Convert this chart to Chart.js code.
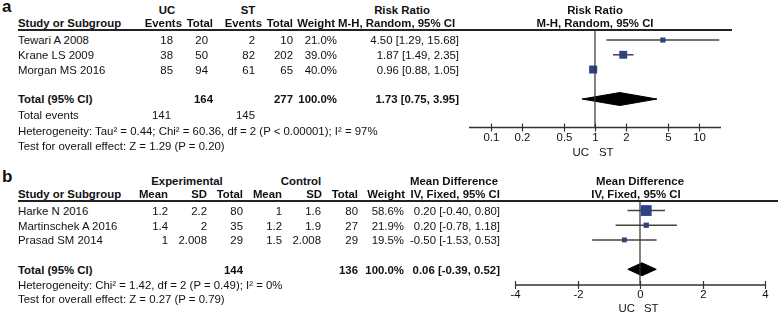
<!DOCTYPE html>
<html>
<head>
<meta charset="utf-8">
<script src="https://cdn.jsdelivr.net/npm/chart.js@4.4.1/dist/chart.umd.min.js"></script>
<style>
  body { margin: 0; background: #fff; }
  #wrap { position: relative; width: 778px; height: 315px; overflow: hidden;
          font-family: "Liberation Sans", Arial, sans-serif; font-size: 11.4px; color: #111; }
  .t { position: absolute; white-space: nowrap; line-height: 14px; height: 14px; }
  .b { font-weight: bold; }
  .rule { position: absolute; height: 2px; background: #222; }
  canvas { position: absolute; }
</style>
</head>
<body>
<div id="wrap">
  <div class="rule" style="left:18px;top:29px;width:714px"></div>
  <div class="rule" style="left:18px;top:200px;width:760px"></div>
  <canvas id="plotA" width="338" height="160" style="left:440px;top:0px"></canvas>
  <canvas id="plotB" width="338" height="155" style="left:440px;top:160px"></canvas>
</div>
<script>
// ---- panel a : UC vs ST, risk ratio ----
const studiesA = ['Tewari A 2008', 'Krane LS 2009', 'Morgan MS 2016'];
const ucEvents = [18, 38, 85];
const ucTotal = [20, 50, 94];
const stEvents = [2, 82, 61];
const stTotal = [10, 202, 65];
const weightA = [21.0, 39.0, 40.0];
const rr = [4.50, 1.87, 0.96];
const rrLo = [1.29, 1.49, 0.88];
const rrHi = [15.68, 2.35, 1.05];
const totalA = [1.73, 0.75, 3.95];       // estimate, lower, upper
const totalsA = [164, 277];
const eventsA = [141, 145];
const ticksA = [0.1, 0.2, 0.5, 1, 2, 5, 10];

// ---- panel b : mean difference ----
const studiesB = ['Harke N 2016', 'Martinschek A 2016', 'Prasad SM 2014'];
const expMean = [1.2, 1.4, 1];
const expSD = [2.2, 2, 2.008];
const expTotal = [80, 35, 29];
const ctlMean = [1, 1.2, 1.5];
const ctlSD = [1.6, 1.9, 2.008];
const ctlTotal = [80, 27, 29];
const weightB = [58.6, 21.9, 19.5];
const md = [0.20, 0.20, -0.50];
const mdLo = [-0.40, -0.78, -1.53];
const mdHi = [0.80, 1.18, 0.53];
const totalB = [0.06, -0.39, 0.52];
const totalsB = [144, 136];
const ticksB = [-4, -2, 0, 2, 4];

const wrap = document.getElementById('wrap');
function put(x, y, s, align, bold, size) {
  const d = document.createElement('div');
  d.className = 't' + (bold ? ' b' : '');
  d.textContent = s;
  d.style.top = (y - 7) + 'px';
  if (size) d.style.fontSize = size + 'px';
  if (align === 'r') d.style.right = (778 - x) + 'px';
  else if (align === 'c') { d.style.left = x + 'px'; d.style.transform = 'translateX(-50%)'; }
  else d.style.left = x + 'px';
  wrap.appendChild(d);
}
const ci = (e, l, h) => e.toFixed(2) + ' [' + l.toFixed(2) + ', ' + h.toFixed(2) + ']';

// table a
put(2, 7, 'a', 'l', 1, 17);
put(167, 10, 'UC', 'c', 1); put(248, 10, 'ST', 'c', 1);
put(402, 10, 'Risk Ratio', 'c', 1); put(595, 10, 'Risk Ratio', 'c', 1);
put(18, 23, 'Study or Subgroup', 'l', 1);
put(182, 23, 'Events', 'r', 1); put(213, 23, 'Total', 'r', 1);
put(262, 23, 'Events', 'r', 1); put(293, 23, 'Total', 'r', 1);
put(335, 23, 'Weight', 'r', 1);
put(338, 23, 'M-H, Random, 95% CI', 'l', 1); put(595, 23, 'M-H, Random, 95% CI', 'c', 1);
studiesA.forEach((s, i) => {
  const y = 40 + 14.75 * i;
  put(18, y, s);
  put(173, y, String(ucEvents[i]), 'r'); put(208, y, String(ucTotal[i]), 'r');
  put(255, y, String(stEvents[i]), 'r'); put(293, y, String(stTotal[i]), 'r');
  put(337, y, weightA[i].toFixed(1) + '%', 'r');
  put(459, y, ci(rr[i], rrLo[i], rrHi[i]), 'r');
});
put(18, 99, 'Total (95% CI)', 'l', 1);
put(213, 99, String(totalsA[0]), 'r', 1); put(293, 99, String(totalsA[1]), 'r', 1);
put(337, 99, '100.0%', 'r', 1);
put(459, 99, ci(totalA[0], totalA[1], totalA[2]), 'r', 1);
put(18, 115, 'Total events');
put(171, 115, String(eventsA[0]), 'r'); put(255, 115, String(eventsA[1]), 'r');
put(18, 131, 'Heterogeneity: Tau\u00b2 = 0.44; Chi\u00b2 = 60.36, df = 2 (P < 0.00001); I\u00b2 = 97%');
put(18, 146, 'Test for overall effect: Z = 1.29 (P = 0.20)');
put(589, 152, 'UC', 'r'); put(599, 152, 'ST', 'l');

// table b
put(2, 177, 'b', 'l', 1, 17);
put(187, 181, 'Experimental', 'c', 1); put(301, 181, 'Control', 'c', 1);
put(454, 181, 'Mean Difference', 'c', 1); put(640, 181, 'Mean Difference', 'c', 1);
put(18, 194, 'Study or Subgroup', 'l', 1);
put(168, 194, 'Mean', 'r', 1); put(207, 194, 'SD', 'r', 1); put(243, 194, 'Total', 'r', 1);
put(282, 194, 'Mean', 'r', 1); put(322, 194, 'SD', 'r', 1); put(358, 194, 'Total', 'r', 1);
put(405, 194, 'Weight', 'r', 1);
put(500, 194, 'IV, Fixed, 95% CI', 'r', 1); put(636, 194, 'IV, Fixed, 95% CI', 'c', 1);
studiesB.forEach((s, i) => {
  const y = 211 + 14.6 * i;
  put(18, y, s);
  put(168, y, String(expMean[i]), 'r'); put(207, y, String(expSD[i]), 'r'); put(243, y, String(expTotal[i]), 'r');
  put(282, y, String(ctlMean[i]), 'r'); put(321, y, String(ctlSD[i]), 'r'); put(358, y, String(ctlTotal[i]), 'r');
  put(404, y, weightB[i].toFixed(1) + '%', 'r');
  put(500, y, ci(md[i], mdLo[i], mdHi[i]), 'r');
});
put(18, 269.5, 'Total (95% CI)', 'l', 1);
put(243, 269.5, String(totalsB[0]), 'r', 1); put(358, 269.5, String(totalsB[1]), 'r', 1);
put(404, 269.5, '100.0%', 'r', 1);
put(500, 269.5, ci(totalB[0], totalB[1], totalB[2]), 'r', 1);
put(18, 284.5, 'Heterogeneity: Chi\u00b2 = 1.42, df = 2 (P = 0.49); I\u00b2 = 0%');
put(18, 299, 'Test for overall effect: Z = 0.27 (P = 0.79)');
put(635, 308, 'UC', 'r'); put(644, 308, 'ST', 'l');

// axis with ticks crossing the line, drawn from the chart's own x scale
const axisLine = {
  id: 'axisLine',
  afterDatasetsDraw(chart, args, opts) {
    const { ctx, chartArea } = chart;
    const x = chart.scales.x;
    const y0 = chartArea.bottom;
    ctx.save();
    ctx.strokeStyle = '#333';
    ctx.lineWidth = 1.6;
    ctx.beginPath(); ctx.moveTo(chartArea.left, y0); ctx.lineTo(chartArea.right, y0); ctx.stroke();
    ctx.lineWidth = 1.2;
    ctx.font = '11.4px "Liberation Sans", Arial, sans-serif';
    ctx.fillStyle = '#111';
    ctx.textAlign = 'center';
    ctx.textBaseline = 'middle';
    opts.ticks.forEach(v => {
      const px = Math.round(x.getPixelForValue(v)) + 0.5;
      ctx.beginPath(); ctx.moveTo(px, y0 - 4); ctx.lineTo(px, y0 + 4); ctx.stroke();
      ctx.fillText(String(v), px, y0 + 10);
    });
    ctx.restore();
  }
};

function forest(canvasId, est, lo, hi, wt, tot, xScale, yMin, yMax, pad, ticks) {
  const rows = est.map((e, i) => i);
  const totalRow = 4;
  const ref = xScale.type === 'logarithmic' ? 1 : 0;
  const blue = '#2a4199';
  const ds = [];
  ds.push({ data: [{ x: ref, y: yMin }, { x: ref, y: yMax }], showLine: true,
            borderColor: '#333', borderWidth: 1.2, pointRadius: 0 });
  rows.forEach(i => ds.push({ data: [{ x: lo[i], y: i }, { x: hi[i], y: i }], showLine: true,
            borderColor: '#444', borderWidth: 1.5, pointRadius: 0 }));
  ds.push({ data: rows.map(i => ({ x: est[i], y: i })), pointStyle: 'rect',
            pointRadius: wt.map(w => (2 + w * 0.15) / Math.SQRT2), pointBorderWidth: 0,
            backgroundColor: blue, borderColor: blue });
  const h = 0.44;
  ds.push({ data: [{ x: tot[1], y: totalRow }, { x: tot[0], y: totalRow - h }, { x: tot[2], y: totalRow },
                   { x: tot[0], y: totalRow + h }, { x: tot[1], y: totalRow }],
            showLine: true, fill: 'shape', backgroundColor: '#000', borderColor: '#000',
            borderWidth: 1, pointRadius: 0 });
  ds.forEach(d => { d.clip = false; });
  new Chart(document.getElementById(canvasId), {
    type: 'scatter',
    data: { datasets: ds },
    options: {
      responsive: false,
      animation: false,
      layout: { padding: pad },
      scales: {
        x: Object.assign({ display: false }, xScale),
        y: { type: 'linear', min: yMin, max: yMax, reverse: true, display: false }
      },
      plugins: { legend: { display: false }, tooltip: { enabled: false }, axisLine: { ticks: ticks } }
    },
    plugins: [axisLine]
  });
}

forest('plotA', rr, rrLo, rrHi, weightA, totalA,
       { type: 'logarithmic', min: 0.0614, max: 16.3 }, -0.68, 5.93,
       { left: 29, right: 57, top: 30, bottom: 32.5 }, ticksA);
forest('plotB', md, mdLo, mdHi, weightB, totalB,
       { type: 'linear', min: -4, max: 4 }, -0.65, 5.07,
       { left: 75, right: 13, top: 41, bottom: 30 }, ticksB);
</script>
</body>
</html>
